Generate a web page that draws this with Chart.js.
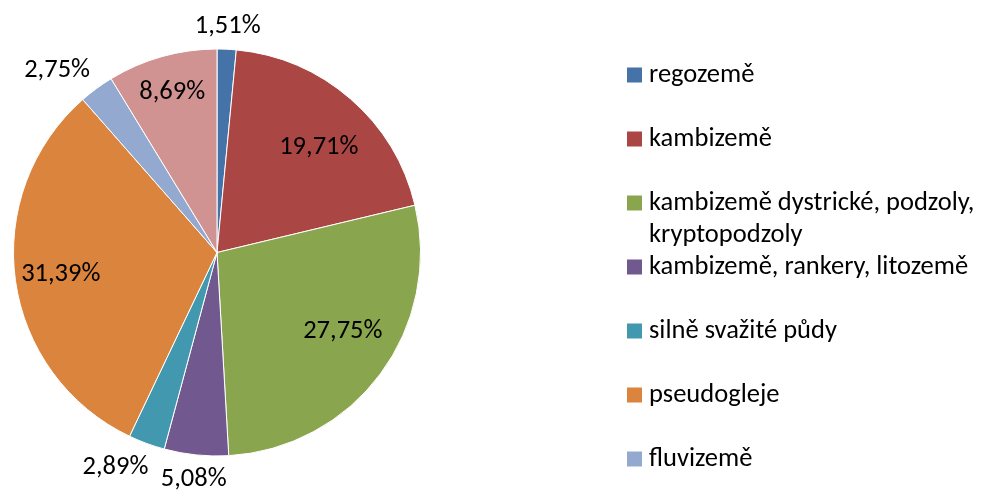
<!DOCTYPE html>
<html>
<head>
<meta charset="utf-8">
<script src="https://cdn.jsdelivr.net/npm/chart.js@4/dist/chart.umd.min.js"></script>
<style>
    html, body { margin: 0; padding: 0; background: #fff; }
    #wrap { width: 982px; height: 490px; position: relative; }
</style>
</head>
<body>
<div id="wrap"><canvas id="chart"></canvas></div>
<script>
const labels = [
    'regozemě',
    'kambizemě',
    'kambizemě dystrické, podzoly, kryptopodzoly',
    'kambizemě, rankery, litozemě',
    'silně svažité půdy',
    'pseudogleje',
    'fluvizemě',
    'ostatní'
];
const shares = [1.51, 19.71, 27.75, 5.08, 2.89, 31.39, 2.75, 8.69];
const colors = ['#4572A7', '#AA4643', '#89A54E', '#71588F', '#4198AF', '#DB843D', '#93A9CF', '#D19392'];

// where each percentage sits: radius factor and a small angle nudge (degrees)
const labelRadius = [1.11, 0.72, 0.73, 1.12, 1.17, 0.775, 1.19, 0.815];
const labelNudge = [0, 3, -4.5, 0, 5, 0, -5, 0];

const FONT = '26.5px Carlito, Lato, sans-serif';

const pctLabels = {
    id: 'pctLabels',
    afterDatasetsDraw(chart) {
        const ctx = chart.ctx;
        const meta = chart.getDatasetMeta(0);
        ctx.save();
        ctx.font = FONT;
        ctx.fillStyle = '#000';
        ctx.textAlign = 'center';
        ctx.textBaseline = 'middle';
        meta.data.forEach((arc, i) => {
            const p = arc.getProps(['x', 'y', 'startAngle', 'endAngle', 'outerRadius'], true);
            const mid = (p.startAngle + p.endAngle) / 2 + labelNudge[i] * Math.PI / 180;
            const r = p.outerRadius * labelRadius[i];
            const txt = shares[i].toFixed(2).replace('.', ',') + '%';
            ctx.fillText(txt, p.x + Math.cos(mid) * r, p.y + Math.sin(mid) * r);
        });
        ctx.restore();
    }
};

// legend on the right, Excel style (the last entry falls below the canvas)
const sideLegend = {
    id: 'sideLegend',
    afterDraw(chart) {
        const ctx = chart.ctx;
        const boxX = 627, textX = 649, maxW = 340;
        ctx.save();
        ctx.font = FONT;
        ctx.textBaseline = 'middle';
        ctx.textAlign = 'left';
        labels.forEach((lab, i) => {
            const y = 75 + i * 64;
            ctx.fillStyle = colors[i];
            ctx.fillRect(boxX, y - 7.5, 15, 15);
            // simple word wrap
            const words = lab.split(' ');
            const lines = [];
            let cur = '';
            words.forEach(w => {
                const test = cur ? cur + ' ' + w : w;
                if (ctx.measureText(test).width > maxW && cur) {
                    lines.push(cur);
                    cur = w;
                } else {
                    cur = test;
                }
            });
            lines.push(cur);
            ctx.fillStyle = '#000';
            lines.forEach((ln, j) => ctx.fillText(ln, textX, y + j * 32));
        });
        ctx.restore();
    }
};

new Chart(document.getElementById('chart'), {
    type: 'pie',
    data: {
        labels: labels,
        datasets: [{
            data: shares,
            backgroundColor: colors,
            borderColor: '#fff',
            borderWidth: 1
        }]
    },
    options: {
        responsive: true,
        maintainAspectRatio: false,
        animation: false,
        layout: {
            padding: {top: 48, bottom: 33, left: 13, right: 561}
        },
        plugins: {
            legend: {display: false},
            tooltip: {enabled: false}
        }
    },
    plugins: [pctLabels, sideLegend]
});
</script>
</body>
</html>
